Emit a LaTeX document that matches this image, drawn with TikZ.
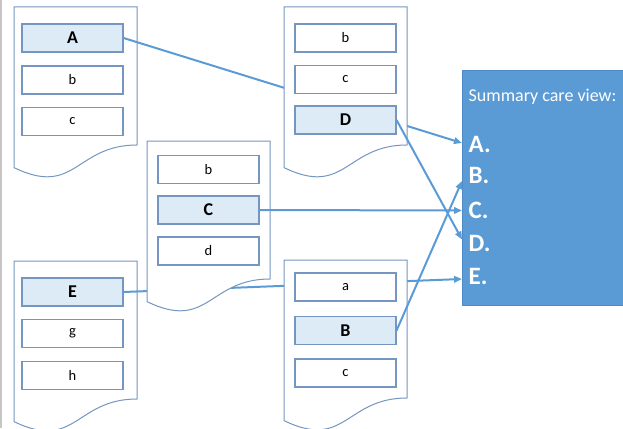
\documentclass[tikz,border=0pt]{standalone}
\usepackage{fontspec}
\setmainfont{Carlito}
\usetikzlibrary{arrows.meta}
\definecolor{docedge}{HTML}{7496C0}
\definecolor{keyfill}{HTML}{DDEBF7}
\definecolor{linkblue}{HTML}{5B9BD5}
\definecolor{panelblue}{HTML}{5B9BD5}
\definecolor{paneledge}{HTML}{4F8BC4}
\definecolor{frame}{HTML}{C6C6C6}
\tikzset{
  pics/docsheet/.style={code={
    \filldraw[fill=white,draw=docedge,line width=1pt]
      (0,0) -- (123,0) -- (123,138)
      .. controls (61.5,138) and (61.5,190.5) .. (0,160.6) -- cycle;
  }},
  field/.style={draw=docedge,fill=white,line width=1.1pt,minimum width=101pt,
    minimum height=28pt,inner sep=0pt,font=\fontsize{14.5}{16}\selectfont},
  keyfield/.style={field,fill=keyfill,font=\fontsize{18}{20}\selectfont\bfseries},
  link/.style={draw=linkblue,line width=2pt},
  arrowlink/.style={link,-{Triangle[length=8pt,width=6.5pt]}},
  item/.style={anchor=base west,text=white,inner sep=0pt,
    font=\fontsize{25}{27}\selectfont\bfseries}
}
\begin{document}
\begin{tikzpicture}[x=1pt,y=-1pt]
\useasboundingbox (0,0) rectangle (623,428);
% thin frame on the left edge
\fill[frame] (0,0) rectangle (2,428);

% summary panel
\filldraw[fill=panelblue,draw=paneledge,line width=0.8pt] (462,70) rectangle (628,305);
\node[anchor=base west,text=white,inner sep=0pt,font=\fontsize{18}{20}\selectfont] (title) at (468.5,101.5) {Summary care view:};
\node[item] (lA) at (468.5,152) {A.};
\node[item] (lB) at (468.5,183) {B.};
\node[item] (lC) at (468.5,218) {C.};
\node[item] (lD) at (468.5,251) {D.};
\node[item] (lE) at (468.5,284) {E.};
\coordinate (tA) at (462,143);
\coordinate (tB) at (462,181);
\coordinate (tC) at (462,210.5);
\coordinate (tD) at (462,239.5);
\coordinate (tE) at (462,279);

% record 1
\pic at (14,7) {docsheet};
\node[keyfield] (A) at (72.5,38) {A};
\node[field] (r1b) at (72.5,80) {b};
\node[field] (r1c) at (72.5,121.5) {c};

% record 4
\pic at (14,261) {docsheet};
\node[keyfield] (E) at (72.5,292) {E};
\node[field] (r4g) at (72.5,333.5) {g};
\node[field] (r4h) at (72.5,375.5) {h};

% links that pass behind the other records
\draw[arrowlink] (A.east) -- (tA);
\draw[arrowlink] (E.east) -- (tE);

% record 2
\pic at (284,7) {docsheet};
\node[field] (r2b) at (345.5,38) {b};
\node[field] (r2c) at (345.5,79.5) {c};
\node[keyfield] (D) at (345.5,120) {D};

% record 3
\pic at (147,141) {docsheet};
\node[field] (r3b) at (208.5,169.5) {b};
\node[keyfield] (C) at (208.5,210) {C};
\node[field] (r3d) at (208.5,251) {d};

% record 5
\pic at (284,260) {docsheet};
\node[field] (r5a) at (345.5,287) {a};
\node[keyfield] (B) at (345.5,330.5) {B};
\node[field] (r5c) at (345.5,373) {c};

% remaining links
\draw[arrowlink] (D.east) -- (tD);
\draw[arrowlink] (C.east) -- (tC);
\draw[arrowlink] (B.east) -- (tB);
\end{tikzpicture}
\end{document}
